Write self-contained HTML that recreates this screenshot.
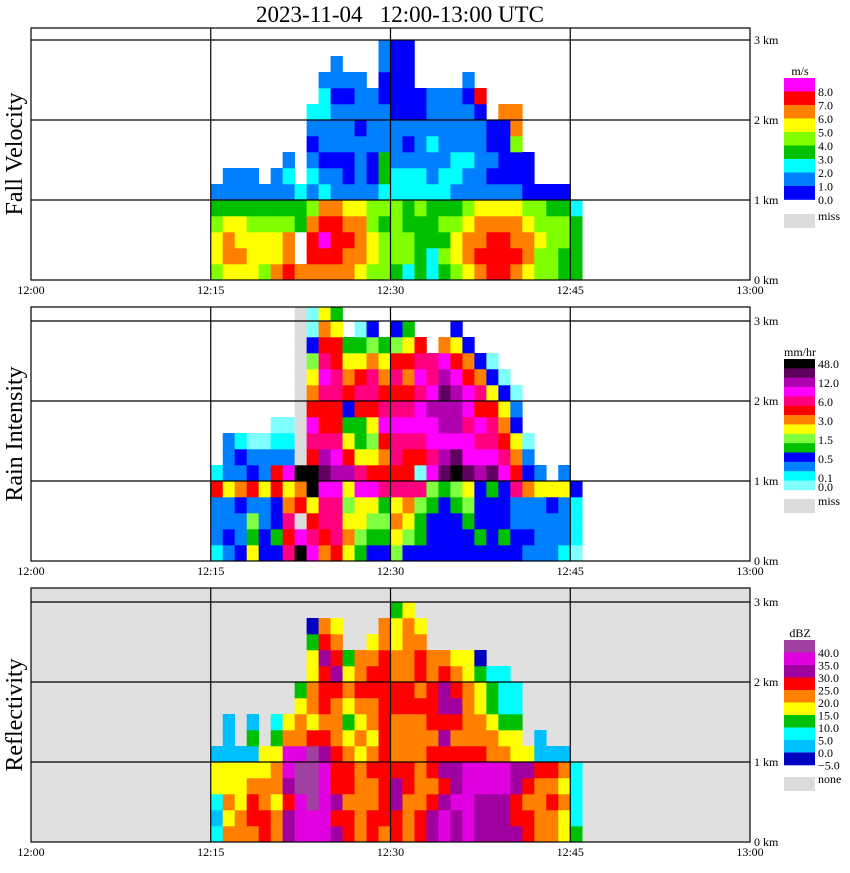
<!DOCTYPE html>
<html><head><meta charset="utf-8"><style>
body{margin:0;background:#fff;width:850px;height:868px;overflow:hidden}
svg text{font-family:"Liberation Serif",serif}
</style></head><body>
<svg id="s" width="850" height="868" xmlns="http://www.w3.org/2000/svg">
<text x="400" y="22" font-size="23" text-anchor="middle" style="white-space:pre">2023-11-04   12:00-13:00 UTC</text>
</svg>
<script>
// column = minute after 12:15; string = codes bottom->top in 0.2 km rows
const minutes = [0,1,2,3,4,5,6,7,8,9,10,11,12,13,14,15,16,17,18,19,20,21,22,23,24,25,26,27,28,29,30];
const velCols = ["455431","5665311","5655311","5554311","455431","6554311","76643121","6..332","67764121012","6787621011221","67776110111011","6676510011101","5666511110111","455441001111","444342331110011","344442211100000","244332210100000","333342211100","223332112111","343432211111","455431221111","5665411211101","676651111107","7776510100","77765100006","67665100466","56654000","445440","444430","334430","33332"];
const rainCols = ["122281","23226222","32237231","64528320","33226220","343388210","98976A210","DAg87Dgggggggggg","A986DD89A8765300","7899ACB9889A98760","8999ABA9889988640","67656B86438764","4566A9644898640","3456A8656899753","34549878A98764","56769899A989853","35679889A987864","34459089AA9A98","33345A9AABA99","33334CBABBCBA7","33345DCABBBA863","33456CAA9AA873","34333BA9A8973","33334CA998630","34333A987630","33229876320","23227320","222262","22236","122262","01113"];
const dbzCols = ["212441","54544111","554441","56654131","665544","55455432","77678854","8889985543","88999964554430","88888765666765","76766655567654","665665434543","555554545655","6655654556654","56666666666655","667765556655443","555665556655554","66555555656654","776566566655","887676767765","778776567654","888886555544","777886554430","77788554332","77788543222","7667744322","665674","5555611","556561","445451","32222"];
const miss = "g";
const ticks = ["12:00","12:15","12:30","12:45","13:00"];
const kmLabels = ["0 km","1 km","2 km","3 km"];
const velColors=["#0000ff","#0080ff","#00ffff","#00c000","#80ff00","#ffff00","#ff8000","#ff0000","#ff00ff"];
const velLegend=["8.0","7.0","6.0","5.0","4.0","3.0","2.0","1.0","0.0"];
const rainColors=["#80ffff","#00ffff","#0080ff","#0000ff","#00c000","#80ff40","#ffff00","#ff8000","#ff0000","#ff0080","#ff00ff","#b000b0","#600060","#000000"];
const rainLegend=["48.0","12.0","6.0","3.0","1.5","0.5","0.1","0.0"];
const rainLegendY=[368,387,406,425,444,463,482,491];
const dbzColors=["#0000c0","#00c0ff","#00ffff","#00c000","#ffff00","#ff8000","#ff0000","#a000a0","#e000e0","#a040a0"];
const dbzLegend=["40.0","35.0","30.0","25.0","20.0","15.0","10.0","5.0","0.0","\u22125.0"];
const svg=document.getElementById('s');const NS="http://www.w3.org/2000/svg";
function mk(t,a,p){const e=document.createElementNS(NS,t);for(const k in a)e.setAttribute(k,a[k]);(p||svg).appendChild(e);return e;}
const defs=mk('defs',{});
const X0=31,X1=750;
function xScale(min){return X0+(X1-X0)*min/60;}
function panel(top,zero,cols,colors,name,bg,title){
  const g=mk('g',{});
  
  
  const cp=mk('clipPath',{id:'c-'+name},defs);
  mk('rect',{x:X0,y:top,width:X1-X0,height:zero-top},cp);
  const yk=km=>zero-80*km;
  const r=mk('rect',{x:X0,y:top,width:X1-X0,height:zero-top,fill:bg},g);
  
  
  const cg=mk('g',{'clip-path':'url(#c-'+name+')'},g);
  cols.forEach((s,ci)=>{
    const xa=xScale(15+minutes[ci]),xb=xScale(16+minutes[ci]);
    for(let ri=0;ri<s.length;ri++){const c=s[ri];if(c==='.')continue;
      const col=c===miss?"#dcdcdc":colors[parseInt(c,16)];
      const yb=yk(ri*0.2),yt=yk((ri+1)*0.2);
      const cell=mk('rect',{x:xa.toFixed(2),y:yt.toFixed(2),width:(xb-xa+0.3).toFixed(2),height:(yb-yt+0.3).toFixed(2),fill:col},cg);
      
      
    }
  });
  [1,2,3].forEach(k=>mk('line',{x1:X0,x2:X1,y1:yk(k),y2:yk(k),stroke:'#000','stroke-width':1.2},g));
  [15,30,45].forEach(m=>mk('line',{x1:xScale(m),x2:xScale(m),y1:top,y2:zero,stroke:'#000','stroke-width':1.2},g));
  mk('rect',{x:X0,y:top,width:X1-X0,height:zero-top,fill:'none',stroke:'#000','stroke-width':1.2},g);
  ticks.forEach((t,i)=>{const tx=mk('text',{x:xScale(i*15),y:zero+14,'font-size':12,'text-anchor':'middle'},g);tx.textContent=t;
    
    });
  kmLabels.forEach((t,i)=>{const tx=mk('text',{x:754,y:yk(i)+4,'font-size':12},g);tx.textContent=t;
    
    });
  const ti=mk('text',{x:0,y:0,'font-size':24,'text-anchor':'middle',transform:`translate(22,${(top+zero)/2}) rotate(-90)`},g);
  ti.textContent=title;
  
  
}
function legend(unit,top,colors,h,labels,labelYs,missY,missLabel,name){
  const g=mk('g',{});
  
  
  const u=mk('text',{x:800,y:top-3,'font-size':12,'text-anchor':'middle'},g);u.textContent=unit;
  const n=colors.length;
  for(let i=0;i<n;i++){const r=mk('rect',{x:784,y:top+i*h,width:31,height:h+0.3,fill:colors[n-1-i]},g);
    
    }
  labels.forEach((l,i)=>{const t=mk('text',{x:818,y:labelYs[i],'font-size':12},g);t.textContent=l;});
  mk('rect',{x:784,y:missY,width:31,height:14,fill:'#dcdcdc'},g);
  const m=mk('text',{x:818,y:missY+6,'font-size':12},g);m.textContent=missLabel;
}
panel(28,280,velCols,velColors,'fall-velocity','#fff','Fall Velocity');
panel(307,561,rainCols,rainColors,'rain-intensity','#fff','Rain Intensity');
panel(588,842,dbzCols,dbzColors,'reflectivity','#e0e0e0','Reflectivity');
legend('m/s',78,velColors,13.5,velLegend,velLegend.map((l,i)=>78+i*13.5+18),214,'miss','velocity');
legend('mm/hr',359,rainColors,9.35,rainLegend,rainLegendY,499,'miss','rain');
legend('dBZ',640,dbzColors,12.5,dbzLegend,dbzLegend.map((l,i)=>640+i*12.5+17),777,'none','dbz');
</script>
</body></html>
